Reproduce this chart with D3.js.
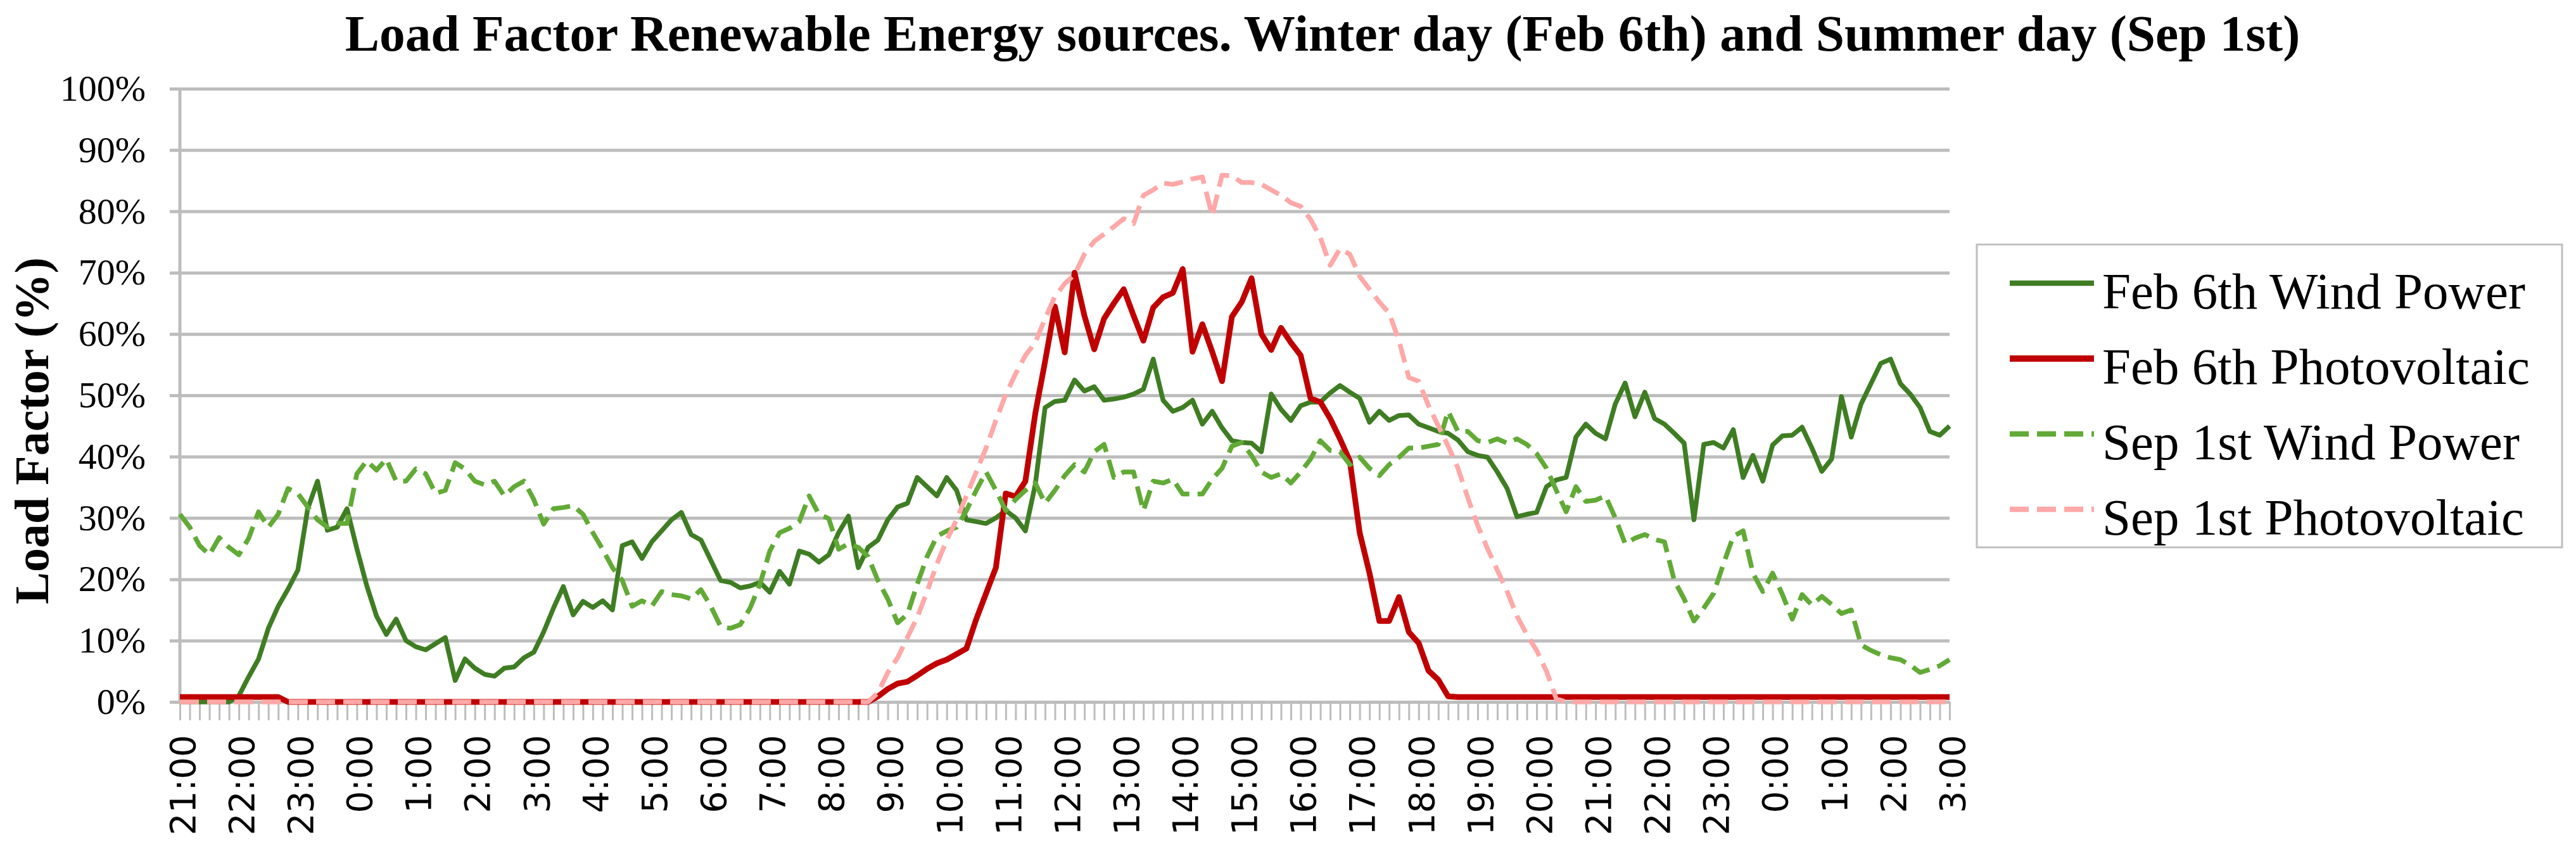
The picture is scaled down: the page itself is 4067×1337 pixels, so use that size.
<!DOCTYPE html>
<html>
<head>
<meta charset="utf-8">
<script src="https://cdn.jsdelivr.net/npm/d3@7"></script>
<style>
  body { margin: 0; background: #fff; }
  text { font-family: "Liberation Serif", "Times New Roman", serif; fill: #000; }
</style>
</head>
<body>
<div id="chart"></div>
<script>
// Data: load factor (%) every 10 minutes, 21:00 -> 3:00 (next day + 1)
var hourLabels = ["21:00", "22:00", "23:00", "0:00", "1:00", "2:00", "3:00", "4:00", "5:00",
  "6:00", "7:00", "8:00", "9:00", "10:00", "11:00", "12:00", "13:00", "14:00", "15:00",
  "16:00", "17:00", "18:00", "19:00", "20:00", "21:00", "22:00", "23:00", "0:00", "1:00",
  "2:00", "3:00"];

var seriesNames = ["Feb 6th Wind Power", "Feb 6th Photovoltaic", "Sep 1st Wind Power", "Sep 1st Photovoltaic"];

var febWind = [
  0, 0, 0, 0, 0, 0, 1, 4.1, 7, 12,
  15.6, 18.4, 21.5, 31.5, 36, 28, 28.5, 31.5, 25, 19,
  14, 11, 13.5, 10, 9, 8.5, 9.5, 10.5, 3.5, 7,
  5.5, 4.5, 4.2, 5.5, 5.7, 7.2, 8.1, 11.4, 15.3, 18.8,
  14.2, 16.4, 15.4, 16.5, 15, 25.5, 26.1, 23.4, 26.1, 27.9,
  29.7, 30.9, 27.3, 26.4, 23.1, 19.8, 19.5, 18.6, 18.9, 19.5,
  17.9, 21.3, 19.2, 24.6, 24.1, 22.8, 24, 27.6, 30.3, 21.9,
  25.2, 26.4, 29.7, 31.8, 32.4, 36.6, 35.1, 33.6, 36.6, 34.5,
  29.7, 29.4, 29.1, 30, 31.2, 30, 27.9, 35.4, 48, 49,
  49.2, 52.5, 50.7, 51.4, 49.2, 49.4, 49.7, 50.2, 51, 55.9,
  49.2, 47.4, 48, 49.2, 45.3, 47.4, 44.7, 42.6, 42.3, 42.2,
  40.8, 50.2, 47.7, 45.9, 48.3, 48.9, 48.9, 50.4, 51.6, 50.5,
  49.5, 45.6, 47.4, 45.9, 46.7, 46.8, 45.3, 44.7, 44.1, 43.8,
  42.7, 40.8, 40.2, 39.9, 37.5, 34.8, 30.2, 30.6, 30.9, 35.1,
  36.2, 36.6, 43.2, 45.3, 43.8, 42.9, 48.6, 52, 46.5, 50.5,
  46.2, 45.3, 43.8, 42.2, 29.7, 42, 42.3, 41.4, 44.4, 36.6,
  40.2, 36, 41.9, 43.4, 43.5, 44.8, 41.4, 37.6, 39.6, 49.8,
  43.2, 48.6, 51.9, 55.2, 55.9, 51.9, 50.2, 48, 44.1, 43.5,
  45
];

var febPV = [
  0.8, 0.8, 0.8, 0.8, 0.8, 0.8, 0.8, 0.8, 0.8, 0.8,
  0.8, 0, 0, 0, 0, 0, 0, 0, 0, 0,
  0, 0, 0, 0, 0, 0, 0, 0, 0, 0,
  0, 0, 0, 0, 0, 0, 0, 0, 0, 0,
  0, 0, 0, 0, 0, 0, 0, 0, 0, 0,
  0, 0, 0, 0, 0, 0, 0, 0, 0, 0,
  0, 0, 0, 0, 0, 0, 0, 0, 0, 0,
  0, 0.9, 2.1, 3, 3.3, 4.3, 5.4, 6.3, 6.9, 7.8,
  8.7, 13.5, 17.7, 21.9, 34, 33.5, 36, 47, 55.5, 64.5,
  57, 70, 63, 57.5, 62.5, 65, 67.3, 63, 58.9, 64.3,
  66, 66.7, 70.6, 57.1, 61.6, 57.1, 52.3, 62.8, 65.2, 69.1,
  60, 57.4, 61, 58.6, 56.5, 49.5, 48.9, 46.2, 42.9, 39.3,
  27.6, 21, 13.2, 13.2, 17.1, 11.4, 9.6, 5.1, 3.6, 0.9,
  0.8, 0.8, 0.8, 0.8, 0.8, 0.8, 0.8, 0.8, 0.8, 0.8,
  0.8, 0.8, 0.8, 0.8, 0.8, 0.8, 0.8, 0.8, 0.8, 0.8,
  0.8, 0.8, 0.8, 0.8, 0.8, 0.8, 0.8, 0.8, 0.8, 0.8,
  0.8, 0.8, 0.8, 0.8, 0.8, 0.8, 0.8, 0.8, 0.8, 0.8,
  0.8, 0.8, 0.8, 0.8, 0.8, 0.8, 0.8, 0.8, 0.8, 0.8,
  0.8
];

var sepWind = [
  30.6, 28.5, 25.5, 24, 26.8, 25.2, 24, 26.7, 31, 28.5,
  30.6, 34.8, 34, 31.8, 29.7, 28.5, 29.1, 29.1, 37.2, 39.3,
  37.8, 39.6, 36, 36, 38, 37.2, 34, 34.5, 39, 38,
  36, 35.4, 36, 33.6, 35.1, 36, 33, 29, 31.5, 31.7,
  32, 30.6, 27.6, 24.9, 21.9, 19.8, 15.6, 16.5, 15.6, 18,
  17.5, 17.3, 16.8, 18.3, 15.6, 12.3, 12, 12.6, 15.3, 19.2,
  24.6, 27.6, 28.3, 29.4, 33.6, 30.6, 29.9, 24.9, 25.8, 25.2,
  23.7, 19.8, 16.8, 12.9, 14.3, 19.2, 23.7, 27, 27.9, 28.5,
  31.2, 34.5, 37.5, 34.5, 31.2, 33, 34.5, 35.7, 32.4, 34.5,
  36.9, 38.7, 37.5, 40.8, 42, 36.6, 37.5, 37.5, 31.2, 36,
  35.7, 36.3, 33.9, 33.9, 33.9, 36.3, 38.1, 41.7, 42.3, 40.2,
  37.5, 36.6, 37.2, 35.7, 37.5, 39.6, 42.6, 41, 40.8, 38.7,
  39.9, 38.1, 36.9, 38.7, 39.9, 41.4, 41.4, 41.7, 42, 47.4,
  44.1, 44.1, 42.6, 42.3, 42.9, 42.2, 42.9, 42, 40.5, 38.1,
  34.5, 31, 35.1, 32.7, 32.9, 33.6, 30, 25.8, 26.7, 27.3,
  26.5, 26.1, 19.8, 16.8, 13.2, 15.3, 17.7, 22.5, 27, 27.9,
  21, 18, 21, 17.5, 13.5, 17.5, 15.8, 17.2, 15.9, 14.4,
  15, 9.3, 8.4, 7.7, 7.2, 6.9, 6, 4.8, 5.3, 5.9,
  6.9
];

var sepPV = [
  0, 0, 0, 0, 0, 0, 0, 0, 0, 0,
  0, 0, 0, 0, 0, 0, 0, 0, 0, 0,
  0, 0, 0, 0, 0, 0, 0, 0, 0, 0,
  0, 0, 0, 0, 0, 0, 0, 0, 0, 0,
  0, 0, 0, 0, 0, 0, 0, 0, 0, 0,
  0, 0, 0, 0, 0, 0, 0, 0, 0, 0,
  0, 0, 0, 0, 0, 0, 0, 0, 0, 0,
  0, 1.5, 4.8, 7.2, 10.5, 13.8, 18, 22.5, 26.4, 29.7,
  33.6, 37.5, 41.4, 45.9, 50.1, 53.5, 56.5, 58.6, 62.5, 66.1,
  68.2, 69.7, 73, 75.1, 76.3, 77.5, 78.8, 78, 82.6, 83.5,
  84.6, 84.4, 84.8, 85.3, 85.6, 79.3, 85.9, 85.8, 84.7, 84.7,
  84.4, 83.5, 82.6, 81.4, 80.8, 78.7, 75.7, 71.2, 73.9, 73,
  69.4, 67.3, 65.2, 63.4, 58.9, 52.9, 52.3, 48.3, 45, 41.7,
  38.1, 33.3, 28.8, 25, 21.5, 18, 14, 11, 8.4, 5,
  0.5, 0, 0, 0, 0, 0, 0, 0, 0, 0,
  0, 0, 0, 0, 0, 0, 0, 0, 0, 0,
  0, 0, 0, 0, 0, 0, 0, 0, 0, 0,
  0, 0, 0, 0, 0, 0, 0, 0, 0, 0,
  0
];

// Build svg object
var svgWidth = 4067;
var svgHeight = 1337;

var plot = { left: 284, right: 3078, top: 140, bottom: 1108 };
var gridColor = "#bdbdbd";

var svg = d3.select("#chart")
  .append("svg")
  .attr("width", svgWidth)
  .attr("height", svgHeight)
  .style("background", "#fff");

// Scales
var x = d3.scaleLinear()
  .domain([0, febWind.length - 1])
  .range([plot.left, plot.right]);

var y = d3.scaleLinear()
  .domain([0, 100])
  .range([plot.bottom, plot.top]);

// Y axis with gridlines
var yAxis = d3.axisLeft(y)
  .ticks(10)
  .tickSize(-(plot.right - plot.left))
  .tickPadding(54)
  .tickFormat(d => d + "%");

var yG = svg.append("g")
  .attr("transform", `translate(${plot.left},0)`)
  .call(yAxis);

yG.select(".domain").remove();
yG.selectAll(".tick line")
  .attr("x1", -16)
  .attr("stroke", gridColor)
  .attr("stroke-width", 5);
yG.selectAll(".tick text")
  .attr("font-family", "'Liberation Serif', 'Times New Roman', serif")
  .attr("font-size", 58)
  .attr("fill", "#000");

// vertical axis line
svg.append("line")
  .attr("x1", plot.left).attr("x2", plot.left)
  .attr("y1", plot.top).attr("y2", plot.bottom)
  .attr("stroke", gridColor)
  .attr("stroke-width", 5);

// X axis: a tick for every 10-minute step
var xAxis = d3.axisBottom(x)
  .tickValues(d3.range(0, febWind.length))
  .tickSize(29)
  .tickSizeOuter(0)
  .tickFormat("");

var xG = svg.append("g")
  .attr("transform", `translate(0,${plot.bottom})`)
  .call(xAxis);

xG.select(".domain").attr("stroke", gridColor).attr("stroke-width", 5);
xG.selectAll(".tick line").attr("stroke", gridColor).attr("stroke-width", 3);

// hour labels, one every hour
var stepsPerHour = (febWind.length - 1) / (hourLabels.length - 1);

svg.selectAll("text.hour")
  .data(hourLabels)
  .enter()
  .append("text")
  .attr("class", "hour")
  .attr("transform", (d, i) => `translate(${x(i * stepsPerHour) + 4},1160) rotate(-90)`)
  .attr("text-anchor", "end")
  .attr("dy", "0.36em")
  .style("font-family", "'DejaVu Sans', Verdana, sans-serif")
  .attr("font-size", 55)
  .text(d => d);

// Lines
var series = [
  { name: seriesNames[0], values: febWind, color: "#3f7d23", width: 7.5, dash: null },
  { name: seriesNames[1], values: febPV, color: "#c00000", width: 9, dash: null },
  { name: seriesNames[2], values: sepWind, color: "#62aa36", width: 7.5, dash: "30,13" },
  { name: seriesNames[3], values: sepPV, color: "#ffa8a8", width: 7.5, dash: "30,13" }
];

var line = d3.line()
  .x((d, i) => x(i))
  .y(d => y(d));

svg.selectAll("path.series")
  .data(series)
  .enter()
  .append("path")
  .attr("class", "series")
  .attr("d", d => line(d.values))
  .attr("fill", "none")
  .attr("stroke", d => d.color)
  .attr("stroke-width", d => d.width)
  .attr("stroke-linejoin", "round")
  .attr("stroke-dasharray", d => d.dash);

// Title
var title = svg.append("text")
  .attr("x", 2088)
  .attr("y", 80)
  .attr("text-anchor", "middle")
  .attr("font-weight", "bold")
  .attr("font-size", 80)
  .text("Load Factor Renewable Energy sources. Winter day (Feb 6th) and Summer day (Sep 1st)");
var tw = title.node().getComputedTextLength();
title.attr("font-size", 80 * 3087 / tw);

// Y axis title
svg.append("text")
  .attr("transform", "translate(76,680) rotate(-90)")
  .attr("text-anchor", "middle")
  .attr("font-weight", "bold")
  .attr("font-size", 76)
  .text("Load Factor (%)");

// Legend
var legend = svg.append("g");

legend.append("rect")
  .attr("x", 3121).attr("y", 386)
  .attr("width", 924).attr("height", 478)
  .attr("fill", "#fff")
  .attr("stroke", "#bfbfbf")
  .attr("stroke-width", 3);

var items = legend.selectAll("g.item")
  .data(series)
  .enter()
  .append("g")
  .attr("class", "item")
  .attr("transform", (d, i) => `translate(0,${447 + i * 119})`);

items.append("line")
  .attr("x1", 3173).attr("x2", 3306)
  .attr("stroke", d => d.color)
  .attr("stroke-width", d => d.width + 1)
  .attr("stroke-dasharray", d => d.dash);

items.append("text")
  .attr("x", 3319)
  .attr("y", 40)
  .attr("font-size", 81)
  .text(d => d.name);
</script>
</body>
</html>
